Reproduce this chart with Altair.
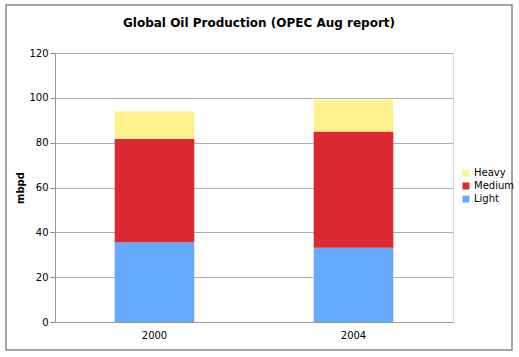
import altair as alt
import pandas as pd

years = ["2000", "2004"]
grades = ["Light", "Medium", "Heavy"]
light = [35.5, 33.1]
medium = [46.1, 51.9]
heavy = [12.3, 14.1]

rows = []
for i, y in enumerate(years):
    for k, (g, vals) in enumerate(zip(grades, [light, medium, heavy])):
        rows.append({"year": y, "grade": g, "value": vals[i], "rank": k})
df = pd.DataFrame(rows)

FONT = "DejaVu Sans"

bars = alt.Chart(df).mark_bar(stroke=None).encode(
    x=alt.X("year:N", title=None,
            scale=alt.Scale(paddingInner=0.6, paddingOuter=0.3),
            axis=alt.Axis(labelAngle=0, labelFontSize=10, labelColor="#000",
                          labelFont=FONT, ticks=False, labelPadding=8,
                          domainColor="#999", grid=False)),
    y=alt.Y("value:Q", title="mbpd",
            scale=alt.Scale(domain=[0, 120]),
            axis=alt.Axis(values=[0, 20, 40, 60, 80, 100, 120], labelFontSize=10,
                          labelFont=FONT, labelColor="#000", tickColor="#888",
                          tickSize=5, labelPadding=2, domainColor="#999",
                          gridColor="#9a9a9a", gridWidth=0.8,
                          titleFont=FONT, titleFontSize=10, titleFontWeight="bold",
                          titleColor="#000", titleX=-35, titleY=134.5, titleAngle=-90,
                          titleAlign="center", titleBaseline="middle")),
    color=alt.Color("grade:N", title=None,
                    scale=alt.Scale(domain=["Heavy", "Medium", "Light"],
                                    range=["#FFF18B", "#DA2930", "#66AAFF"]),
                    legend=alt.Legend(orient="none", legendX=406, legendY=115,
                                      symbolType="square", symbolSize=49,
                                      symbolStrokeWidth=0, labelFont=FONT,
                                      labelFontSize=10, labelColor="#000",
                                      rowPadding=3, padding=0, labelOffset=3)),
    order=alt.Order("rank:Q", sort="ascending"),
)

frame = alt.Chart(pd.DataFrame({"a": [0]})).mark_rect(
    fill=None, stroke="#888", strokeWidth=1.5, clip=False
).encode(
    x=alt.value(-49), x2=alt.value(457), y=alt.value(-48), y2=alt.value(297)
)

chart = alt.layer(frame, bars).properties(
    width=398, height=269,
    title=alt.TitleParams("Global Oil Production (OPEC Aug report)", font=FONT,
                          fontSize=12, fontWeight="bold", color="#000",
                          anchor="middle", frame="group", offset=-26, dx=5),
    autosize=alt.AutoSizeParams(type="none"),
    padding={"left": 55, "top": 53, "right": 66, "bottom": 35},
).configure_view(
    fill="#CACACA", stroke="#999", strokeWidth=1
).configure(background="white")

chart.save("out.html", embed_options={"renderer": "svg", "actions": False})
